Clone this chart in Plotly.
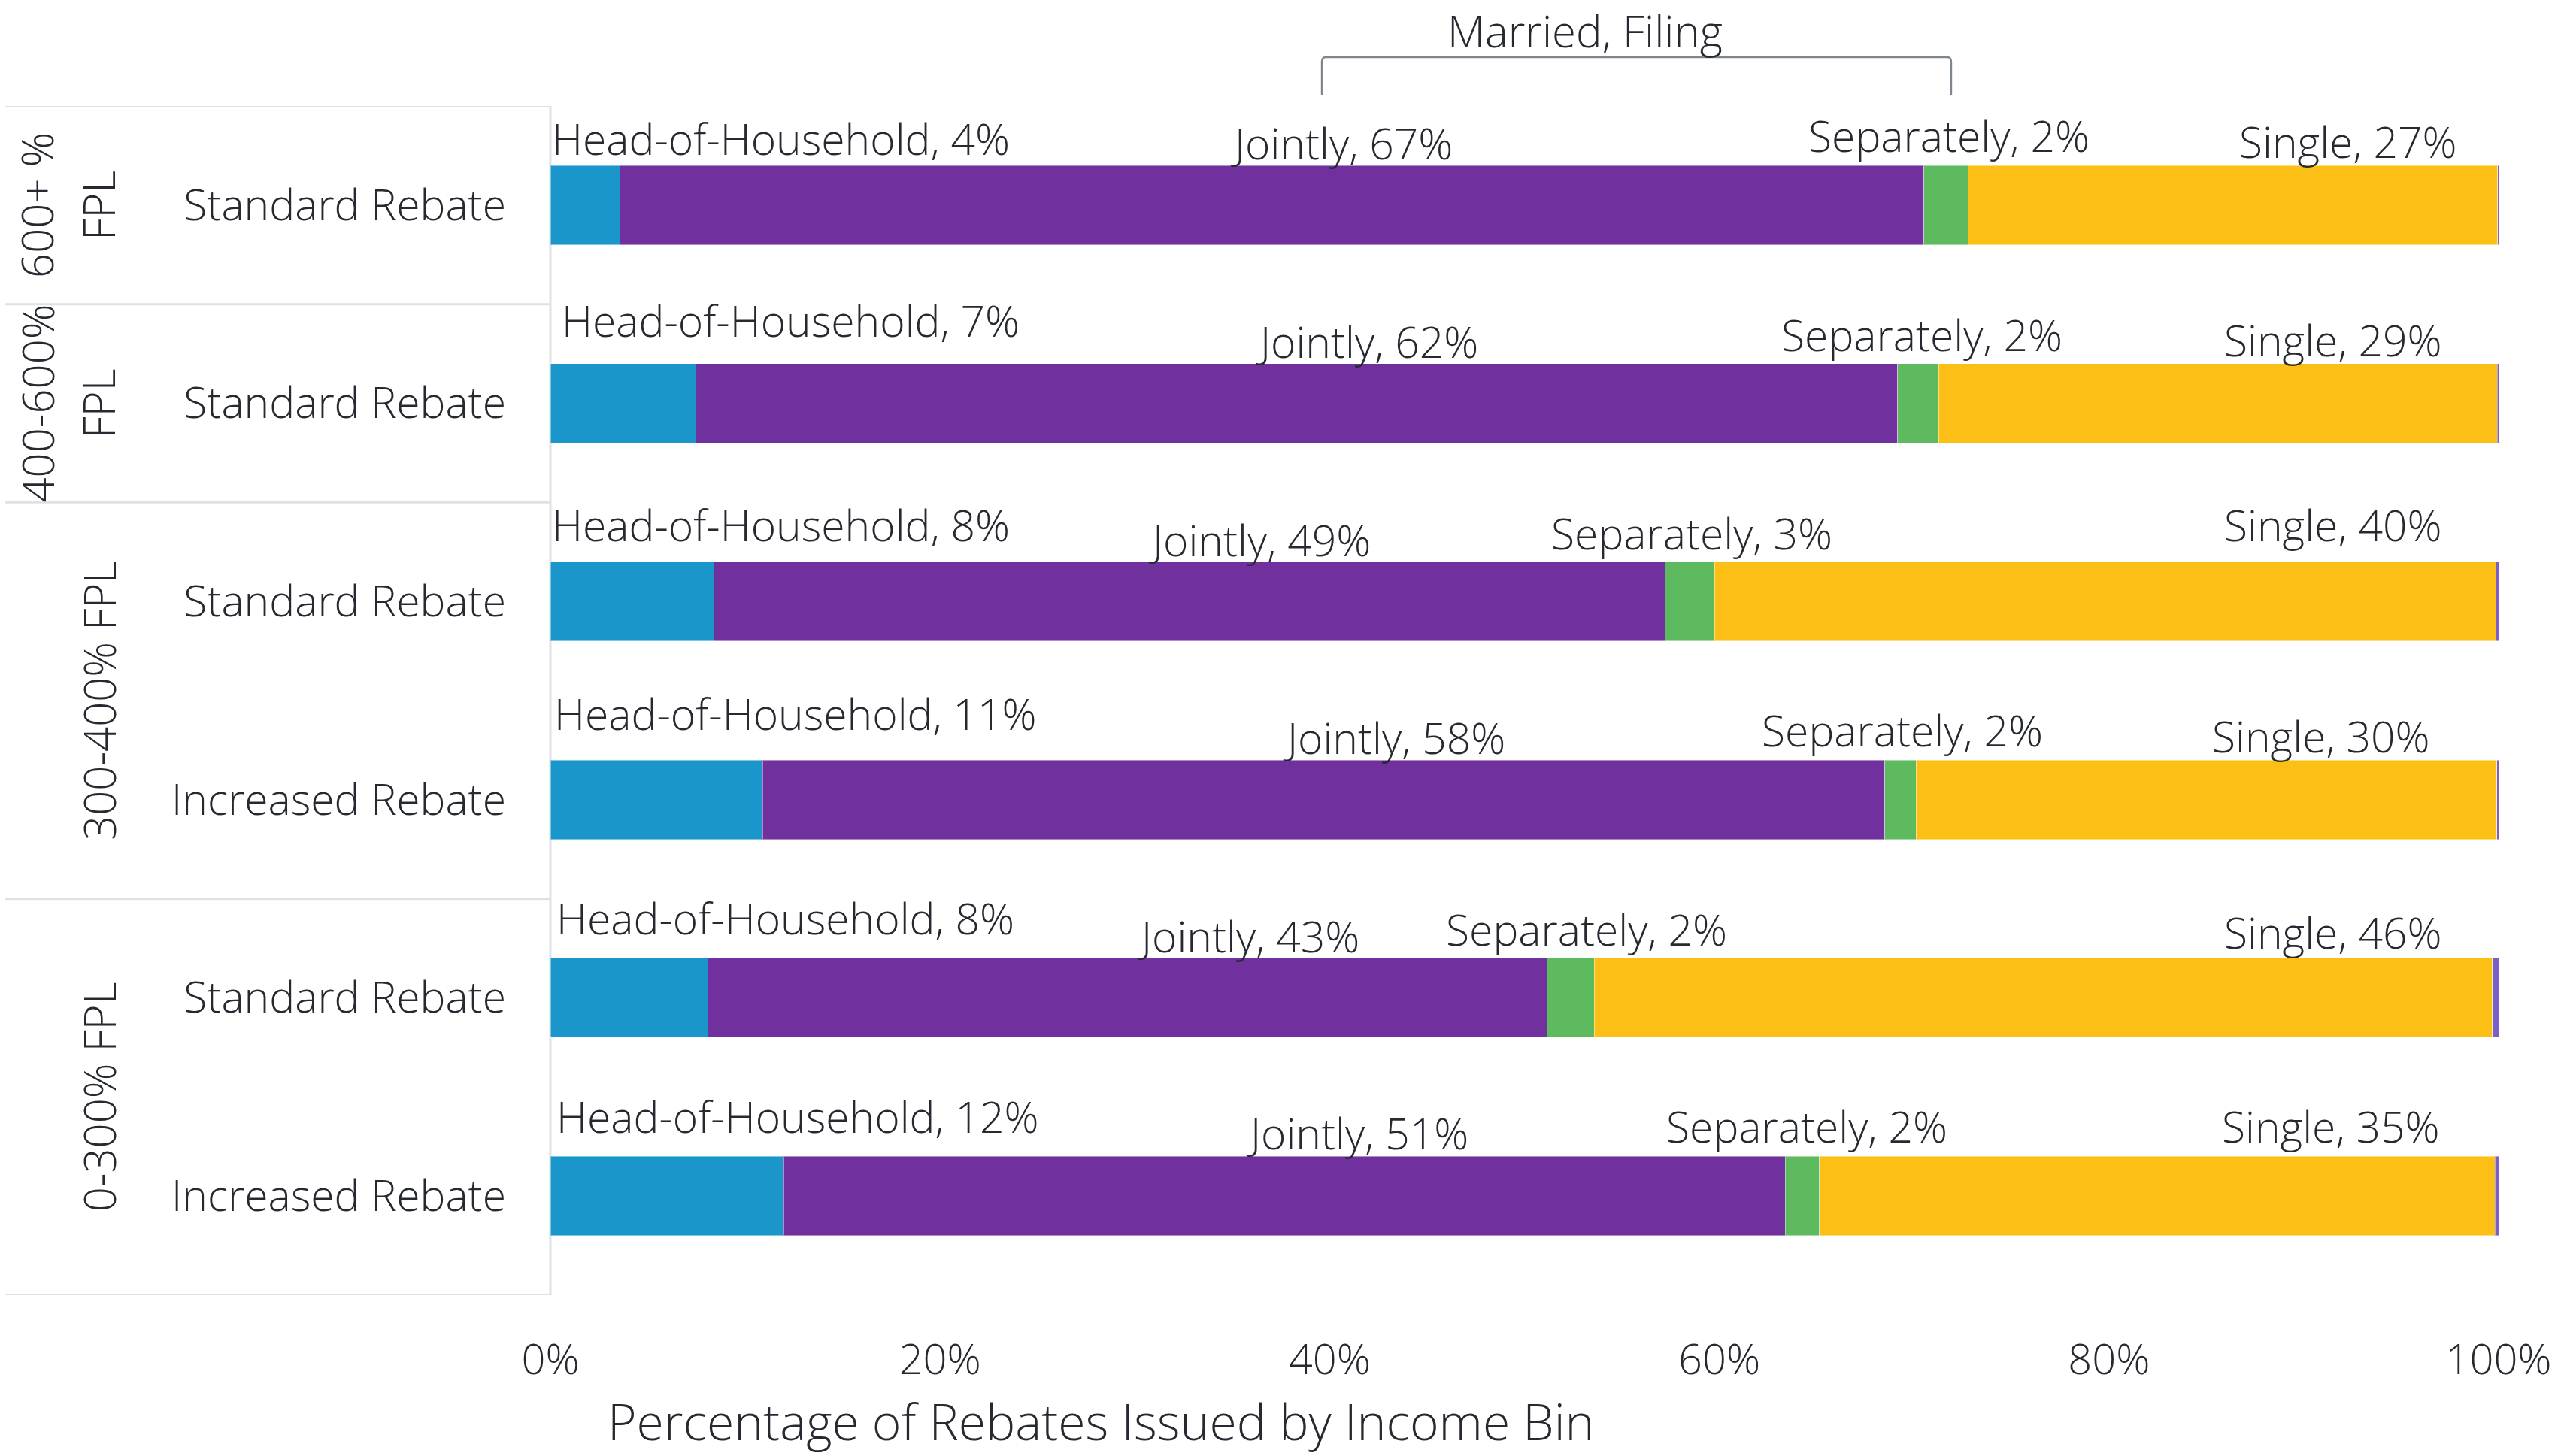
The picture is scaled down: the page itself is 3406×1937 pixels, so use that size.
import plotly.graph_objects as go

# ---- data -------------------------------------------------------------
income_groups = ["600+ %", "400-600%", "300-400% FPL", "0-300% FPL"]
rebate_types = ["Standard Rebate", "Standard Rebate", "Standard Rebate",
                "Increased Rebate", "Standard Rebate", "Increased Rebate"]

hoh = [3.56, 7.45, 8.40, 10.90, 8.10, 11.98]
jointly = [66.94, 61.70, 48.80, 57.60, 43.05, 51.40]
separately = [2.27, 2.10, 2.55, 1.60, 2.43, 1.76]
single = [27.19, 28.68, 40.12, 29.81, 46.11, 34.68]
other = [0.04, 0.07, 0.13, 0.09, 0.31, 0.18]

x_ticks = [0, 20, 40, 60, 80, 100]

# ---- styling / layout ---------------------------------------------------
W, H = 3406, 1937
PL, PR, PT, PB = 732, 3327, 141, 1723      # plot area in pixels
TEXT = "#262a30"
GRID = "#dee1e5"
FONT = "Open Sans"
FS = 57

colors = {
    "Head-of-Household": "#1a96cb",
    "Jointly": "#70309e",
    "Separately": "#5eba5e",
    "Single": "#fcbf15",
    "Other": "#7a5fc9",
}

rows = list(range(len(rebate_types)))


def px_x(px):
    return (px - PL) / (PR - PL)


def px_y(py):
    return (PB - py) / (PB - PT)


def f(size):
    return dict(family=FONT, size=size, color=TEXT, weight=300)


fig = go.Figure()
for name, vals in [("Head-of-Household", hoh), ("Jointly", jointly),
                   ("Separately", separately), ("Single", single),
                   ("Other", other)]:
    fig.add_trace(go.Bar(
        y=rows, x=vals, name=name, orientation="h", width=0.4,
        marker=dict(color=colors[name],
                    line=dict(color="rgba(255,255,255,0.45)", width=1)),
        showlegend=False, hoverinfo="x+name",
    ))

annotations = []

# segment labels above the bars
hoh_dx = [0, 0.5, 0, 0.1, 0.25, 0.25]
hoh_dy = [0.338, 0.42, 0.387, 0.437, 0.404, 0.404]
seg_pos = {
    "Jointly": ([40.6, 41.9, 36.4, 43.3, 35.8, 41.4],
                [0.313, 0.313, 0.313, 0.313, 0.313, 0.32]),
    "Separately": ([71.8, 70.4, 58.6, 69.4, 53.2, 64.5],
                   [0.354, 0.346, 0.346, 0.354, 0.346, 0.354]),
    "Single": ([92.3, 91.5, 91.5, 90.9, 91.5, 91.4],
               [0.32, 0.32, 0.387, 0.32, 0.33, 0.354]),
}
seg_vals = {"Jointly": jointly, "Separately": separately, "Single": single}


def pct(v):
    return f"{int(v + 0.5)}%"


for i in rows:
    annotations.append(dict(
        x=hoh_dx[i], y=i - hoh_dy[i], xref="x", yref="y",
        text=f"Head-of-Household, {pct(hoh[i])}", showarrow=False,
        xanchor="left", yanchor="middle", font=f(FS)))
    for name, (xs, dys) in seg_pos.items():
        annotations.append(dict(
            x=xs[i], y=i - dys[i], xref="x", yref="y",
            text=f"{name}, {pct(seg_vals[name][i])}", showarrow=False,
            xanchor="center", yanchor="middle", font=f(FS)))

# income group labels (rotated)
group_label_pos = [
    ("600+ %", 48, 0), ("FPL", 130, 0),
    ("400-600%", 48, 1), ("FPL", 130, 1),
    (income_groups[2], 130, 2.5), (income_groups[3], 130, 4.5),
]
for txt, xp, yv in group_label_pos:
    annotations.append(dict(
        x=px_x(xp), y=yv, xref="paper", yref="y", text=txt,
        showarrow=False, textangle=-90, xanchor="center", yanchor="middle",
        font=f(58)))

# bracket title
annotations.append(dict(
    x=53.1, y=px_y(40), xref="x", yref="paper", text="Married, Filing",
    showarrow=False, xanchor="center", yanchor="middle", font=f(58)))

# x axis title
annotations.append(dict(
    x=px_x(1466), y=px_y(1890), xref="paper", yref="paper",
    text="Percentage of Rebates Issued by Income Bin", showarrow=False,
    xanchor="center", yanchor="middle", font=f(66)))

shapes = []
# table grid lines on the left
for yb in [-0.5, 0.5, 1.5, 3.5, 5.5]:
    shapes.append(dict(type="line", xref="paper", yref="y",
                       x0=px_x(6), x1=0, y0=yb, y1=yb,
                       line=dict(color=GRID, width=3), layer="below"))
shapes.append(dict(type="line", xref="paper", yref="y", x0=0, x1=0,
                   y0=-0.5, y1=5.5, line=dict(color=GRID, width=3),
                   layer="below"))

# bracket over the married-filing segments
bx0, bx1 = 39.6, 71.9
yt, yb_ = px_y(76), px_y(127)
r = 0.2
shapes.append(dict(
    type="path", xref="x", yref="paper",
    path=(f"M {bx0},{yb_} L {bx0},{yt - 0.004} Q {bx0},{yt} {bx0 + r},{yt} "
          f"L {bx1 - r},{yt} Q {bx1},{yt} {bx1},{yt - 0.004} L {bx1},{yb_}"),
    line=dict(color="#7f868e", width=2.5)))

fig.update_layout(
    width=W, height=H,
    margin=dict(l=PL, r=W - PR, t=PT, b=H - PB, pad=0),
    barmode="stack",
    plot_bgcolor="white", paper_bgcolor="white",
    font=f(FS),
    annotations=annotations, shapes=shapes,
    xaxis=dict(range=[0, 100], tickvals=x_ticks,
               ticktext=[f"{t}%" for t in x_ticks],
               showgrid=False, zeroline=False, showline=False, ticks="",
               ticklabelstandoff=48, tickfont=f(56)),
    yaxis=dict(range=[5.5, -0.5], tickvals=rows, ticktext=rebate_types,
               showgrid=False, zeroline=False, showline=False, ticks="",
               ticklabelstandoff=58, tickfont=f(FS)),
)

fig.write_html("out.html")
